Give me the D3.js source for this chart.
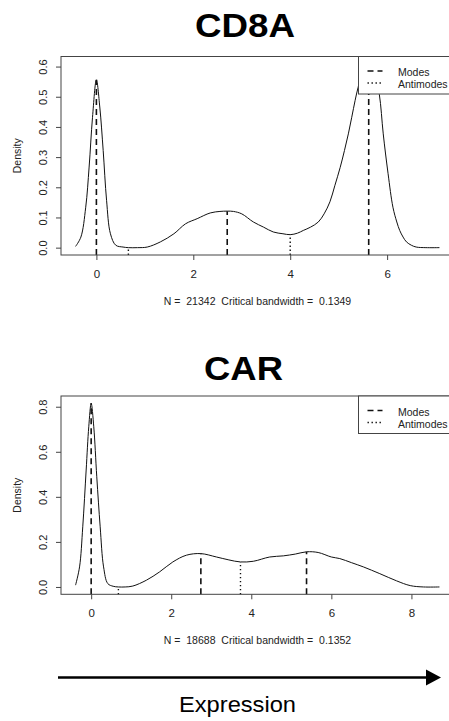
<!DOCTYPE html>
<html>
<head>
<meta charset="utf-8">
<script src="https://cdn.jsdelivr.net/npm/d3@7"></script>
<style>
  html, body { margin: 0; padding: 0; background: #fff; }
  svg { display: block; font-family: "Liberation Sans", Arial, sans-serif; }
</style>
</head>
<body>
<div id="chart"></div>
<script>
// --- CD8A density ---
const cd8aExpr = [-0.43, -0.32, -0.22, -0.15, -0.08, 0, 0.07, 0.14, 0.21, 0.29, 0.40, 0.55, 0.66, 0.85, 1.05, 1.32, 1.60, 1.84, 2.08, 2.35, 2.55, 2.70, 2.83, 3.00, 3.24, 3.45, 3.65, 3.85, 4.00, 4.15, 4.27, 4.42, 4.58, 4.70, 4.82, 4.92, 5.03, 5.12, 5.20, 5.27, 5.34, 5.40, 5.50, 5.62, 5.74, 5.84, 5.92, 6.02, 6.12, 6.20, 6.26, 6.33, 6.40, 6.50, 6.60, 6.80, 7.08];
const cd8aDens = [0.004, 0.035, 0.134, 0.267, 0.432, 0.556, 0.466, 0.322, 0.157, 0.046, 0.008, 0.002, 0.0, 0.0, 0.002, 0.019, 0.046, 0.079, 0.096, 0.115, 0.120, 0.121, 0.120, 0.112, 0.085, 0.068, 0.052, 0.046, 0.043, 0.048, 0.057, 0.068, 0.085, 0.112, 0.152, 0.205, 0.265, 0.322, 0.377, 0.432, 0.488, 0.530, 0.585, 0.609, 0.580, 0.507, 0.377, 0.245, 0.134, 0.085, 0.057, 0.035, 0.019, 0.008, 0.002, 0.0, 0.0];
const cd8aModes = [0, 2.70, 5.62];
const cd8aModeDens = [0.556, 0.121, 0.609];
const cd8aAntimodes = [0.66, 4.00];
const cd8aAntimodeDens = [0.0, 0.043];
const cd8aXTicks = [0, 2, 4, 6];
const cd8aYTicks = [0, 0.1, 0.2, 0.3, 0.4, 0.5, 0.6];
const cd8aNote = 'N =  21342  Critical bandwidth =  0.1349';

// --- CAR density ---
const carExpr = [-0.39, -0.29, -0.21, -0.125, -0.06, 0, 0.065, 0.14, 0.225, 0.31, 0.415, 0.55, 0.68, 0.85, 1.04, 1.38, 1.71, 2.04, 2.38, 2.74, 3.13, 3.44, 3.73, 4.05, 4.46, 4.80, 5.10, 5.38, 5.67, 6.00, 6.21, 6.50, 6.80, 7.21, 7.63, 7.97, 8.30, 8.70];
const carDens = [0.008, 0.089, 0.267, 0.519, 0.711, 0.815, 0.711, 0.489, 0.267, 0.089, 0.015, 0.003, 0.0, 0.0, 0.004, 0.030, 0.067, 0.111, 0.141, 0.148, 0.133, 0.120, 0.111, 0.114, 0.133, 0.138, 0.146, 0.156, 0.153, 0.133, 0.126, 0.108, 0.089, 0.059, 0.027, 0.006, 0.0, 0.0];
const carModes = [0, 2.74, 5.38];
const carModeDens = [0.815, 0.148, 0.156];
const carAntimodes = [0.68, 3.73];
const carAntimodeDens = [0.0, 0.111];
const carXTicks = [0, 2, 4, 6, 8];
const carYTicks = [0, 0.2, 0.4, 0.6, 0.8];
const carNote = 'N =  18688  Critical bandwidth =  0.1352';

const legendLabels = ['Modes', 'Antimodes'];

const W = 449, H = 721;
const ink = '#111', frame = '#444';

const svg = d3.select('#chart').append('svg')
  .attr('width', W)
  .attr('height', H);

// R pads the data range by 4% on each side
function padded(values) {
  const [lo, hi] = d3.extent(values);
  const pad = (hi - lo) * 0.04;
  return [lo - pad, hi + pad];
}

function drawPanel(p) {
  const x = d3.scaleLinear().domain(padded(p.expr)).range([p.left, p.right]);
  const y = d3.scaleLinear().domain(padded(p.dens)).range([p.bottom, p.top]);
  const g = svg.append('g');

  // title
  g.append('text')
    .attr('x', p.titleX)
    .attr('y', p.titleY)
    .attr('text-anchor', 'middle')
    .attr('textLength', p.titleLen)
    .attr('lengthAdjust', 'spacingAndGlyphs')
    .style('font-size', '33px')
    .style('font-weight', 'bold')
    .style('fill', '#000')
    .text(p.title);

  // density curve
  const pts = p.expr.map((e, i) => [e, p.dens[i]]);
  g.append('path')
    .datum(pts)
    .attr('fill', 'none')
    .attr('stroke', ink)
    .attr('stroke-width', 1)
    .attr('d', d3.line().x(d => x(d[0])).y(d => y(d[1])).curve(d3.curveCatmullRom.alpha(0.5)));

  // modes (dashed) and antimodes (dotted), from the frame up to the curve
  g.selectAll('.mode')
    .data(p.modes.map((m, i) => [m, p.modeDens[i]]))
    .join('line')
    .attr('x1', d => x(d[0])).attr('x2', d => x(d[0]))
    .attr('y1', p.bottom).attr('y2', d => y(d[1]))
    .attr('stroke', ink)
    .attr('stroke-width', 1.6)
    .attr('stroke-dasharray', '6,4');

  g.selectAll('.antimode')
    .data(p.antimodes.map((m, i) => [m, p.antimodeDens[i]]))
    .join('line')
    .attr('x1', d => x(d[0])).attr('x2', d => x(d[0]))
    .attr('y1', p.bottom).attr('y2', d => y(d[1]))
    .attr('stroke', ink)
    .attr('stroke-width', 1.4)
    .attr('stroke-dasharray', '1.4,2.6');

  // frame
  g.append('rect')
    .attr('x', p.left).attr('y', p.top)
    .attr('width', p.right - p.left).attr('height', p.bottom - p.top)
    .attr('fill', 'none')
    .attr('stroke', frame)
    .attr('stroke-width', 1);

  // x axis
  const xa = g.append('g')
    .attr('transform', `translate(0,${p.bottom})`)
    .call(d3.axisBottom(x).tickValues(p.xTicks).tickSize(5).tickSizeOuter(0).tickFormat(d3.format('d')));
  xa.select('.domain').remove();
  xa.selectAll('.tick line').attr('stroke', frame);
  xa.selectAll('.tick text')
    .attr('y', 23).attr('dy', null)
    .style('font-size', '11.5px')
    .style('fill', '#222');

  // y axis, labels turned like R's las = 0
  const ya = g.append('g')
    .attr('transform', `translate(${p.left},0)`)
    .call(d3.axisLeft(y).tickValues(p.yTicks).tickSize(5).tickSizeOuter(0).tickFormat(d3.format('.1f')));
  ya.select('.domain').remove();
  ya.selectAll('.tick line').attr('stroke', frame);
  ya.selectAll('.tick text')
    .attr('x', null).attr('dy', null)
    .attr('text-anchor', 'middle')
    .attr('transform', 'translate(-14,0) rotate(-90)')
    .style('font-size', '11px')
    .style('fill', '#222');

  g.append('text')
    .attr('transform', `translate(20.5,${(p.top + p.bottom) / 2}) rotate(-90)`)
    .attr('text-anchor', 'middle')
    .style('font-size', '10.5px')
    .style('fill', '#222')
    .text('Density');

  // bandwidth note in place of the x label
  g.append('text')
    .attr('x', (p.left + p.right) / 2)
    .attr('y', p.bottom + 50)
    .attr('text-anchor', 'middle')
    .style('font-size', '10.5px')
    .style('fill', '#222')
    .style('white-space', 'pre')
    .text(p.note);

  // legend (top right, clipped by the page edge)
  const lg = g.append('g').attr('transform', `translate(358.5,${p.top})`);
  lg.append('rect')
    .attr('width', 110).attr('height', 37.5)
    .attr('fill', '#fff')
    .attr('stroke', frame);
  const dashes = ['6,4', '1.4,2.6'];
  legendLabels.forEach((lab, i) => {
    lg.append('line')
      .attr('x1', 9).attr('x2', 24)
      .attr('y1', 14.5 + i * 12).attr('y2', 14.5 + i * 12)
      .attr('stroke', ink)
      .attr('stroke-width', i ? 1.4 : 1.6)
      .attr('stroke-dasharray', dashes[i]);
    lg.append('text')
      .attr('x', 39.5)
      .attr('y', 19.5 + i * 12)
      .style('font-size', '10.5px')
      .style('fill', '#222')
      .text(lab);
  });
}

drawPanel({
  title: 'CD8A', titleX: 245, titleY: 37, titleLen: 100,
  expr: cd8aExpr, dens: cd8aDens,
  modes: cd8aModes, modeDens: cd8aModeDens,
  antimodes: cd8aAntimodes, antimodeDens: cd8aAntimodeDens,
  xTicks: cd8aXTicks, yTicks: cd8aYTicks, note: cd8aNote,
  left: 61, right: 454, top: 56.5, bottom: 255
});

drawPanel({
  title: 'CAR', titleX: 243.5, titleY: 380, titleLen: 79,
  expr: carExpr, dens: carDens,
  modes: carModes, modeDens: carModeDens,
  antimodes: carAntimodes, antimodeDens: carAntimodeDens,
  xTicks: carXTicks, yTicks: carYTicks, note: carNote,
  left: 61, right: 454, top: 396, bottom: 594.3
});

// Expression arrow along the bottom
svg.append('line')
  .attr('x1', 58).attr('x2', 428)
  .attr('y1', 677.5).attr('y2', 677.5)
  .attr('stroke', '#000')
  .attr('stroke-width', 2.5);
svg.append('path')
  .attr('d', 'M426,669.5 L441,677.5 L426,685.5 Z')
  .attr('fill', '#000');
svg.append('text')
  .attr('x', 237.5)
  .attr('y', 711.5)
  .attr('text-anchor', 'middle')
  .attr('textLength', 117)
  .attr('lengthAdjust', 'spacingAndGlyphs')
  .style('font-size', '22px')
  .style('fill', '#000')
  .text('Expression');
</script>
</body>
</html>
